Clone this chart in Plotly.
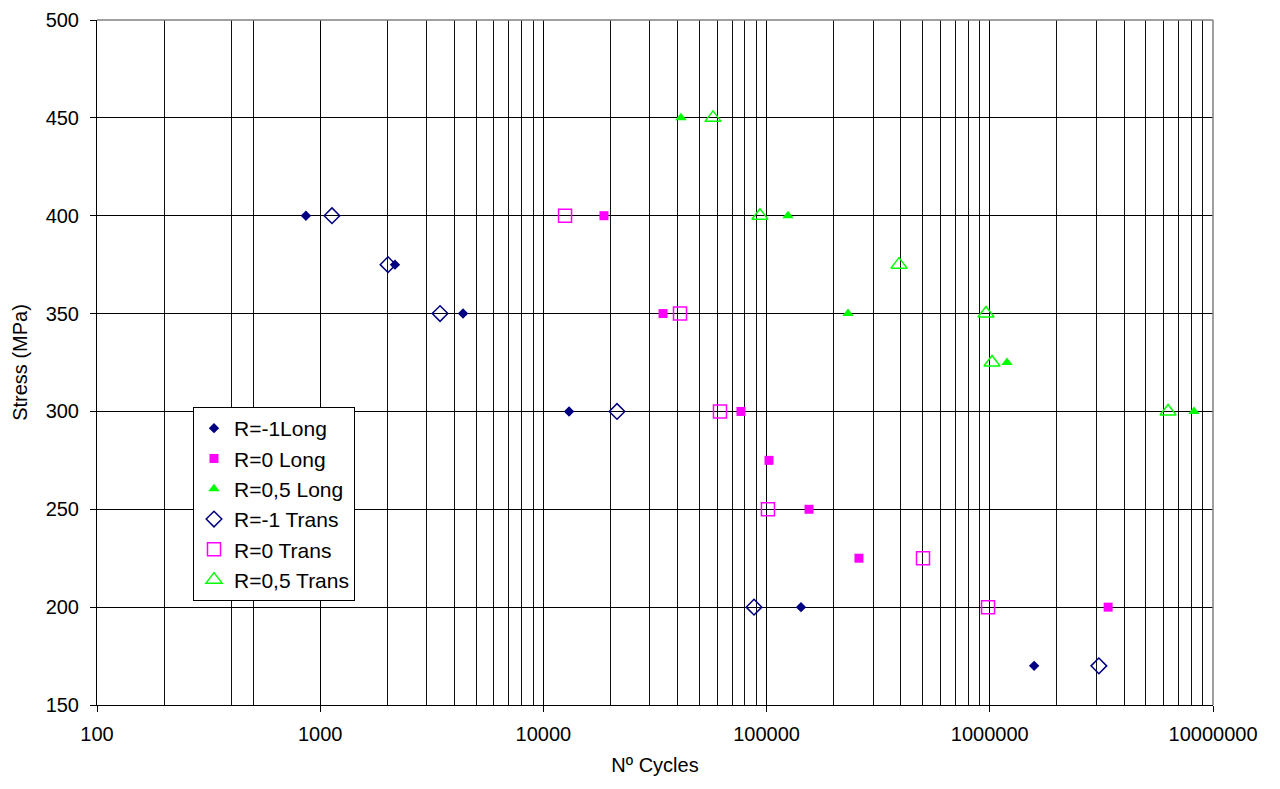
import plotly.graph_objects as go

# Data (cycles, stress MPa)
m1_long_x = [863, 2163, 4365, 13030, 142600, 1580000]
m1_long_y = [400, 375, 350, 300, 200, 170]

r0_long_x = [18680, 34360, 76770, 102500, 154900, 259300, 3390000]
r0_long_y = [400, 350, 300, 275, 250, 225, 200]

r05_long_x = [41340, 124700, 231600, 1194000, 8220000]
r05_long_y = [450, 400, 350, 325, 300]

m1_trans_x = [1129, 2013, 3443, 21370, 87830, 3080000]
m1_trans_y = [400, 375, 350, 300, 200, 170]

r0_trans_x = [12500, 40930, 61820, 101400, 502000, 982000]
r0_trans_y = [400, 350, 300, 250, 225, 200]

r05_trans_x = [57540, 93360, 391900, 961600, 1023000, 6290000]
r05_trans_y = [450, 400, 375, 350, 325, 300]

x_ticks = [100, 1000, 10000, 100000, 1000000, 10000000]
x_tick_labels = ["100", "1000", "10000", "100000", "1000000", "10000000"]
y_ticks = [150, 200, 250, 300, 350, 400, 450, 500]

# minor vertical gridlines visible in the reference
minor_grid = [200, 400, 500] + [m * 10 ** e for e in (3, 4, 5, 6) for m in range(2, 10)]

NAVY = "#000080"
MAG = "#FF00FF"
GRN = "#00FF00"

fig = go.Figure()
fig.add_trace(go.Scatter(x=m1_long_x, y=m1_long_y, mode="markers", name="R=-1Long",
                         marker=dict(symbol="diamond", size=8, color=NAVY)))
fig.add_trace(go.Scatter(x=r0_long_x, y=r0_long_y, mode="markers", name="R=0 Long",
                         marker=dict(symbol="square", size=9, color=MAG)))
fig.add_trace(go.Scatter(x=r05_long_x, y=r05_long_y, mode="markers", name="R=0,5 Long",
                         marker=dict(symbol="triangle-up", size=10, color=GRN)))
fig.add_trace(go.Scatter(x=m1_trans_x, y=m1_trans_y, mode="markers", name="R=-1 Trans",
                         marker=dict(symbol="diamond-open", size=12, color=NAVY, line=dict(width=1.5, color=NAVY))))
fig.add_trace(go.Scatter(x=r0_trans_x, y=r0_trans_y, mode="markers", name="R=0 Trans",
                         marker=dict(symbol="square-open", size=13, color=MAG, line=dict(width=1.5, color=MAG))))
fig.add_trace(go.Scatter(x=r05_trans_x, y=r05_trans_y, mode="markers", name="R=0,5 Trans",
                         marker=dict(symbol="triangle-up-open", size=14, color=GRN, line=dict(width=1.5, color=GRN))))

font_family = "Liberation Sans, Arial, sans-serif"

W, H = 1272, 781
PL, PR, PT, PB = 97, 1213, 20, 705  # plot area in page pixels
fig.update_layout(
    width=W, height=H,
    margin=dict(l=89, r=67, t=12, b=84, autoexpand=False),
    paper_bgcolor="white", plot_bgcolor="white",
    font=dict(family=font_family, size=20, color="black"),
    showlegend=True,
    legend=dict(x=(193 - PL) / (PR - PL), y=1 - (407 - PT) / (PB - PT), xref="paper", yref="paper",
                xanchor="left", yanchor="top",
                bgcolor="white", bordercolor="black", borderwidth=1,
                font=dict(size=21, family=font_family),
                itemsizing="trace", tracegroupgap=0),
    xaxis=dict(type="log", range=[2, 7], tickvals=x_ticks, ticktext=x_tick_labels,
               showgrid=True, gridcolor="black", gridwidth=1,
               ticks="outside", ticklen=6, tickcolor="black",
               showline=True, linecolor="black", linewidth=1, mirror=False,
               zeroline=False, ticklabelstandoff=5, automargin=False,
               tickfont=dict(size=20),
               title=dict(text="Nº Cycles", font=dict(size=20), standoff=13)),
    yaxis=dict(range=[150, 500], tickvals=y_ticks,
               showgrid=True, gridcolor="black", gridwidth=1,
               ticks="outside", ticklen=6, tickcolor="black",
               showline=True, linecolor="black", linewidth=1,
               zeroline=False, ticklabelstandoff=7, ticklabeloverflow="allow",
               automargin=False,
               tickfont=dict(size=20),
               title=dict(text="Stress (MPa)", font=dict(size=20), standoff=12)),
)
fig.update_xaxes(minor=dict(tickvals=minor_grid, showgrid=True, gridcolor="#111111", gridwidth=1, ticks=""))

# gray frame on top and right like the reference
fig.add_shape(type="line", xref="paper", yref="paper", x0=0, x1=1, y0=1, y1=1,
              line=dict(color="#808080", width=1.5))
fig.add_shape(type="line", xref="paper", yref="paper", x0=1, x1=1, y0=0, y1=1,
              line=dict(color="#808080", width=1.5))

fig.write_html("out.html")
